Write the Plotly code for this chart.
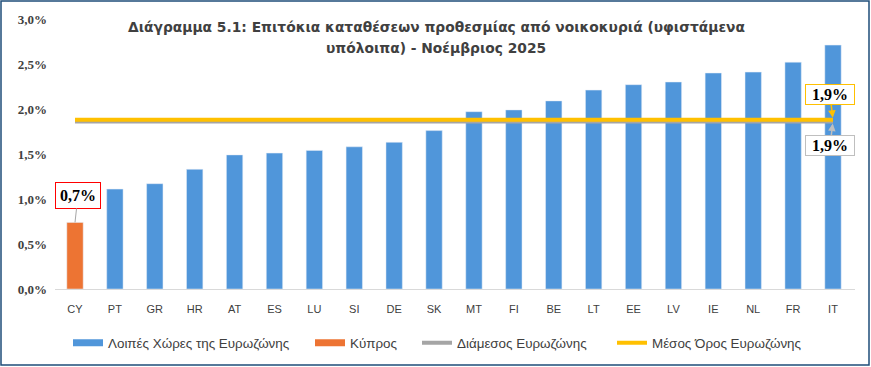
import plotly.graph_objects as go

countries = ["CY", "PT", "GR", "HR", "AT", "ES", "LU", "SI", "DE", "SK",
             "MT", "FI", "BE", "LT", "EE", "LV", "IE", "NL", "FR", "IT"]
rates = [0.74, 1.11, 1.17, 1.33, 1.49, 1.51, 1.54, 1.58, 1.63, 1.76,
         1.97, 1.99, 2.09, 2.21, 2.27, 2.30, 2.40, 2.41, 2.52, 2.71]
cyprus = "CY"
ez_median = 1.86
ez_mean = 1.88

title_lines = ["Διάγραμμα 5.1: Επιτόκια καταθέσεων προθεσμίας από νοικοκυριά (υφιστάμενα",
               "υπόλοιπα) - Νοέμβριος 2025"]
names = ["Λοιπές Χώρες της Ευρωζώνης", "Κύπρος", "Διάμεσος Ευρωζώνης", "Μέσος Όρος Ευρωζώνης"]
y_ticks = [0.0, 0.5, 1.0, 1.5, 2.0, 2.5, 3.0]

def pct(v):
    return f"{v:.1f}".replace(".", ",") + "%"

W, H = 871, 367
ml, mr, mt, mb = 55, 16, 19, 78
pw, ph = W - ml - mr, H - mt - mb

def px_x(px):
    return (px - ml) / pw

def px_y(py):
    return (H - mb - py) / ph

c_blue, c_orange, c_grey, c_yellow = "#5096DA", "#ED7433", "#A5A5A5", "#FFC000"

other_x = [c for c in countries if c != cyprus]
other_y = [v for c, v in zip(countries, rates) if c != cyprus]
cy_y = [v for c, v in zip(countries, rates) if c == cyprus]

fig = go.Figure()
fig.add_trace(go.Bar(x=other_x, y=other_y, name=names[0], marker_color=c_blue, width=0.41,
                     showlegend=False))
fig.add_trace(go.Bar(x=[cyprus], y=cy_y, name=names[1], marker_color=c_orange, width=0.41,
                     showlegend=False))
fig.add_trace(go.Scatter(x=countries, y=[ez_median] * len(countries), mode="lines",
                         name=names[2], line=dict(color=c_grey, width=4), legend="legend3"))
fig.add_trace(go.Scatter(x=countries, y=[ez_mean] * len(countries), mode="lines",
                         name=names[3], line=dict(color=c_yellow, width=4), legend="legend4"))
# legend keys for the bar series (wide flat swatches as in the original)
fig.add_trace(go.Scatter(x=[None], y=[None], mode="lines", name=names[0],
                         line=dict(color=c_blue, width=7), legend="legend"))
fig.add_trace(go.Scatter(x=[None], y=[None], mode="lines", name=names[1],
                         line=dict(color=c_orange, width=7), legend="legend2"))

label_font = dict(family="Liberation Serif", size=16, color="#000000")
fig.add_annotation(x=cyprus, y=cy_y[0], text="<b>" + pct(cy_y[0]) + "</b>", showarrow=True,
                   ax=3, ay=-27, arrowhead=0, arrowwidth=1, arrowcolor="#A6A6A6",
                   bordercolor="#FF0000", borderwidth=1, borderpad=4, bgcolor="white",
                   font=label_font, width=36)
fig.add_annotation(x=countries[-1], y=ez_mean, text="<b>" + pct(ez_mean) + "</b>", showarrow=True,
                   ax=-3, ay=-25, arrowhead=2, arrowsize=1, arrowwidth=1.5, arrowcolor=c_yellow,
                   standoff=2, bordercolor=c_yellow, borderwidth=1, borderpad=1, bgcolor="white",
                   font=label_font, width=46)
fig.add_annotation(x=countries[-1], y=ez_median, text="<b>" + pct(ez_median) + "</b>", showarrow=True,
                   ax=-3, ay=24, arrowhead=2, arrowsize=1, arrowwidth=1.5, arrowcolor="#BFBFBF",
                   standoff=2, bordercolor="#BFBFBF", borderwidth=1, borderpad=1, bgcolor="white",
                   font=label_font, width=46)

# title (two lines, spaced as in the original)
title_font = dict(family="DejaVu Sans", size=13.8, color="#404040")
for line, cy_px in zip(title_lines, [27, 48]):
    fig.add_annotation(xref="paper", yref="paper", x=px_x(436), y=px_y(cy_px),
                       xanchor="center", yanchor="middle", showarrow=False,
                       text="<b>" + line + "</b>", font=title_font)

# outer border
fig.add_shape(type="rect", xref="paper", yref="paper",
              x0=px_x(1), x1=px_x(W - 2), y0=px_y(H - 2), y1=px_y(1),
              line=dict(color="#1F4E79", width=1.5), fillcolor="rgba(0,0,0,0)", layer="below")

leg_font = dict(family="Liberation Sans", size=13.4, color="#404040")
def leg(px):
    return dict(orientation="h", x=px_x(px), xanchor="left", y=px_y(343), yanchor="middle",
                font=leg_font, bgcolor="rgba(0,0,0,0)", itemwidth=30)

fig.update_layout(
    width=W, height=H,
    margin=dict(l=ml, r=mr, t=mt, b=mb, autoexpand=False),
    paper_bgcolor="white", plot_bgcolor="white",
    barmode="overlay",
    separators=",.",
    legend=leg(68), legend2=leg(310), legend3=leg(417), legend4=leg(612),
    xaxis=dict(type="category", categoryorder="array", categoryarray=countries,
               showline=True, linecolor="#D9D9D9", linewidth=1, showgrid=False, ticks="",
               tickfont=dict(family="Liberation Sans", size=11, color="#404040"),
               ticklabelstandoff=10, automargin=False, fixedrange=True),
    yaxis=dict(range=[0, 3.0], tickvals=y_ticks,
               ticktext=["<b>" + pct(v) + "</b>" for v in y_ticks],
               showgrid=False, zeroline=False, showline=False, ticks="",
               tickfont=dict(family="Liberation Serif", size=13, color="#404040"),
               ticklabelstandoff=7, automargin=False, fixedrange=True),
)

fig.write_html("out.html", config={"displayModeBar": False},
               post_script="document.body.style.margin='0';")
